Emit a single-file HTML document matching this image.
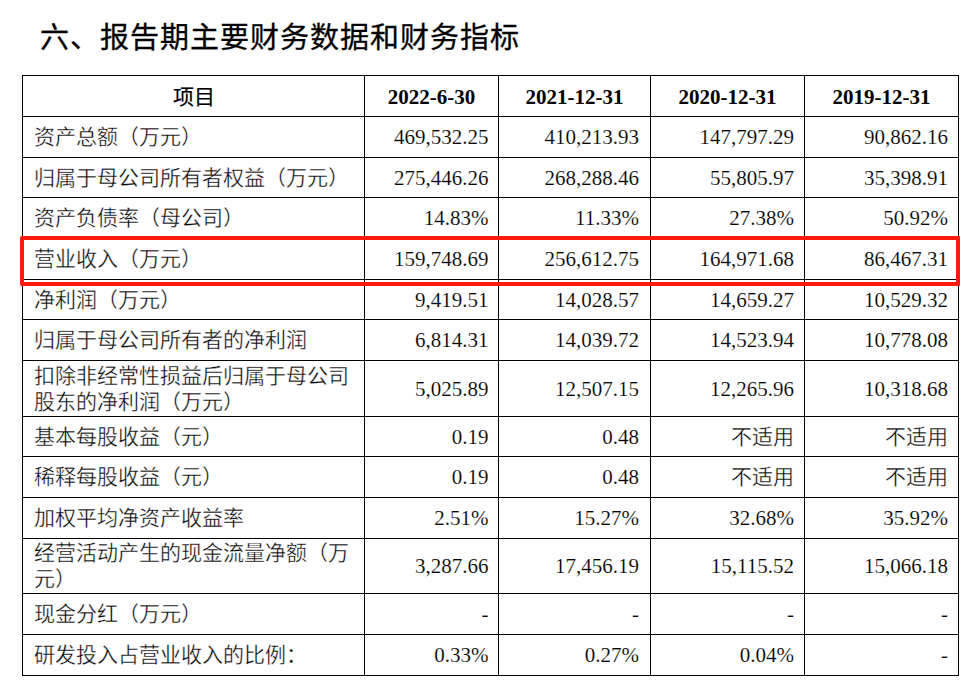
<!DOCTYPE html>
<html lang="zh-CN"><head><meta charset="utf-8">
<style>
html,body{margin:0;padding:0;background:#fff;}
body{width:978px;height:688px;position:relative;overflow:hidden;font-family:"Liberation Serif",serif;color:#000;}
.t{position:absolute;left:40px;top:19.5px;-webkit-text-stroke:0.3px #000;font-family:"Liberation Sans",sans-serif;font-size:29px;letter-spacing:1px;line-height:36px;white-space:nowrap;font-weight:500;}
.h{position:absolute;background:#000;height:1px;}
.v{position:absolute;background:#000;width:1px;}
.c{position:absolute;display:flex;-webkit-text-stroke:0.15px #fff;align-items:center;font-size:21px;line-height:26px;white-space:nowrap;}
.l{justify-content:flex-start;}
.r{justify-content:flex-end;}
.m{justify-content:center;font-weight:bold;padding-top:1px;box-sizing:border-box;}
.z{-webkit-text-stroke:0.35px #fff;}
.hz{font-weight:normal;-webkit-text-stroke:0.2px #000;}
.m{-webkit-text-stroke:0;}
.red{position:absolute;left:20px;top:236px;width:932px;height:42px;border:4px solid #ff1a0f;border-radius:2px 1px 1px 2px;}
</style></head><body>
<div class="t">六、报告期主要财务数据和财务指标</div>

<div class="h" style="left:22px;top:75px;width:937px"></div>
<div class="h" style="left:22px;top:116px;width:937px"></div>
<div class="h" style="left:22px;top:157px;width:937px"></div>
<div class="h" style="left:22px;top:197px;width:937px"></div>
<div class="h" style="left:22px;top:238px;width:937px"></div>
<div class="h" style="left:22px;top:279px;width:937px"></div>
<div class="h" style="left:22px;top:319px;width:937px"></div>
<div class="h" style="left:22px;top:360px;width:937px"></div>
<div class="h" style="left:22px;top:416px;width:937px"></div>
<div class="h" style="left:22px;top:456px;width:937px"></div>
<div class="h" style="left:22px;top:497px;width:937px"></div>
<div class="h" style="left:22px;top:538px;width:937px"></div>
<div class="h" style="left:22px;top:593px;width:937px"></div>
<div class="h" style="left:22px;top:634px;width:937px"></div>
<div class="h" style="left:22px;top:675px;width:937px"></div>
<div class="v" style="left:22px;top:75px;height:601px"></div>
<div class="v" style="left:364px;top:75px;height:601px"></div>
<div class="v" style="left:498px;top:75px;height:601px"></div>
<div class="v" style="left:650px;top:75px;height:601px"></div>
<div class="v" style="left:804px;top:75px;height:601px"></div>
<div class="v" style="left:958px;top:75px;height:601px"></div>
<div class="c m" style="left:23px;top:76px;width:341px;height:40px"><span class="hz">项目</span></div>
<div class="c m" style="left:365px;top:76px;width:133px;height:40px">2022-6-30</div>
<div class="c m" style="left:499px;top:76px;width:151px;height:40px">2021-12-31</div>
<div class="c m" style="left:651px;top:76px;width:153px;height:40px">2020-12-31</div>
<div class="c m" style="left:805px;top:76px;width:153px;height:40px">2019-12-31</div>
<div class="c l" style="left:34px;top:117px;width:330px;height:40px"><span><span class="z">资产总额（万元）</span></span></div>
<div class="c r" style="left:365px;top:117px;width:123.5px;height:40px">469,532.25</div>
<div class="c r" style="left:499px;top:117px;width:140px;height:40px">410,213.93</div>
<div class="c r" style="left:651px;top:117px;width:143px;height:40px">147,797.29</div>
<div class="c r" style="left:805px;top:117px;width:143px;height:40px">90,862.16</div>
<div class="c l" style="left:34px;top:158px;width:330px;height:39px"><span><span class="z">归属于母公司所有者权益（万元）</span></span></div>
<div class="c r" style="left:365px;top:158px;width:123.5px;height:39px">275,446.26</div>
<div class="c r" style="left:499px;top:158px;width:140px;height:39px">268,288.46</div>
<div class="c r" style="left:651px;top:158px;width:143px;height:39px">55,805.97</div>
<div class="c r" style="left:805px;top:158px;width:143px;height:39px">35,398.91</div>
<div class="c l" style="left:34px;top:198px;width:330px;height:40px"><span><span class="z">资产负债率（母公司）</span></span></div>
<div class="c r" style="left:365px;top:198px;width:123.5px;height:40px">14.83%</div>
<div class="c r" style="left:499px;top:198px;width:140px;height:40px">11.33%</div>
<div class="c r" style="left:651px;top:198px;width:143px;height:40px">27.38%</div>
<div class="c r" style="left:805px;top:198px;width:143px;height:40px">50.92%</div>
<div class="c l" style="left:34px;top:239px;width:330px;height:40px"><span><span class="z">营业收入（万元）</span></span></div>
<div class="c r" style="left:365px;top:239px;width:123.5px;height:40px">159,748.69</div>
<div class="c r" style="left:499px;top:239px;width:140px;height:40px">256,612.75</div>
<div class="c r" style="left:651px;top:239px;width:143px;height:40px">164,971.68</div>
<div class="c r" style="left:805px;top:239px;width:143px;height:40px">86,467.31</div>
<div class="c l" style="left:34px;top:280px;width:330px;height:39px"><span><span class="z">净利润（万元）</span></span></div>
<div class="c r" style="left:365px;top:280px;width:123.5px;height:39px">9,419.51</div>
<div class="c r" style="left:499px;top:280px;width:140px;height:39px">14,028.57</div>
<div class="c r" style="left:651px;top:280px;width:143px;height:39px">14,659.27</div>
<div class="c r" style="left:805px;top:280px;width:143px;height:39px">10,529.32</div>
<div class="c l" style="left:34px;top:320px;width:330px;height:40px"><span><span class="z">归属于母公司所有者的净利润</span></span></div>
<div class="c r" style="left:365px;top:320px;width:123.5px;height:40px">6,814.31</div>
<div class="c r" style="left:499px;top:320px;width:140px;height:40px">14,039.72</div>
<div class="c r" style="left:651px;top:320px;width:143px;height:40px">14,523.94</div>
<div class="c r" style="left:805px;top:320px;width:143px;height:40px">10,778.08</div>
<div class="c l" style="left:34px;top:361px;width:330px;height:55px"><span><span class="z">扣除非经常性损益后归属于母公司</span><br><span class="z">股东的净利润（万元）</span></span></div>
<div class="c r" style="left:365px;top:361px;width:123.5px;height:55px">5,025.89</div>
<div class="c r" style="left:499px;top:361px;width:140px;height:55px">12,507.15</div>
<div class="c r" style="left:651px;top:361px;width:143px;height:55px">12,265.96</div>
<div class="c r" style="left:805px;top:361px;width:143px;height:55px">10,318.68</div>
<div class="c l" style="left:34px;top:417px;width:330px;height:39px"><span><span class="z">基本每股收益（元）</span></span></div>
<div class="c r" style="left:365px;top:417px;width:123.5px;height:39px">0.19</div>
<div class="c r" style="left:499px;top:417px;width:140px;height:39px">0.48</div>
<div class="c r" style="left:651px;top:417px;width:143px;height:39px"><span class="z">不适用</span></div>
<div class="c r" style="left:805px;top:417px;width:143px;height:39px"><span class="z">不适用</span></div>
<div class="c l" style="left:34px;top:457px;width:330px;height:40px"><span><span class="z">稀释每股收益（元）</span></span></div>
<div class="c r" style="left:365px;top:457px;width:123.5px;height:40px">0.19</div>
<div class="c r" style="left:499px;top:457px;width:140px;height:40px">0.48</div>
<div class="c r" style="left:651px;top:457px;width:143px;height:40px"><span class="z">不适用</span></div>
<div class="c r" style="left:805px;top:457px;width:143px;height:40px"><span class="z">不适用</span></div>
<div class="c l" style="left:34px;top:498px;width:330px;height:40px"><span><span class="z">加权平均净资产收益率</span></span></div>
<div class="c r" style="left:365px;top:498px;width:123.5px;height:40px">2.51%</div>
<div class="c r" style="left:499px;top:498px;width:140px;height:40px">15.27%</div>
<div class="c r" style="left:651px;top:498px;width:143px;height:40px">32.68%</div>
<div class="c r" style="left:805px;top:498px;width:143px;height:40px">35.92%</div>
<div class="c l" style="left:34px;top:539px;width:330px;height:54px"><span><span class="z">经营活动产生的现金流量净额（万</span><br><span class="z">元）</span></span></div>
<div class="c r" style="left:365px;top:539px;width:123.5px;height:54px">3,287.66</div>
<div class="c r" style="left:499px;top:539px;width:140px;height:54px">17,456.19</div>
<div class="c r" style="left:651px;top:539px;width:143px;height:54px">15,115.52</div>
<div class="c r" style="left:805px;top:539px;width:143px;height:54px">15,066.18</div>
<div class="c l" style="left:34px;top:594px;width:330px;height:40px"><span><span class="z">现金分红（万元）</span></span></div>
<div class="c r" style="left:365px;top:594px;width:123.5px;height:40px">-</div>
<div class="c r" style="left:499px;top:594px;width:140px;height:40px">-</div>
<div class="c r" style="left:651px;top:594px;width:143px;height:40px">-</div>
<div class="c r" style="left:805px;top:594px;width:143px;height:40px">-</div>
<div class="c l" style="left:34px;top:635px;width:330px;height:40px"><span><span class="z">研发投入占营业收入的比例：</span></span></div>
<div class="c r" style="left:365px;top:635px;width:123.5px;height:40px">0.33%</div>
<div class="c r" style="left:499px;top:635px;width:140px;height:40px">0.27%</div>
<div class="c r" style="left:651px;top:635px;width:143px;height:40px">0.04%</div>
<div class="c r" style="left:805px;top:635px;width:143px;height:40px">-</div>
<div class="red"></div>
</body></html>
